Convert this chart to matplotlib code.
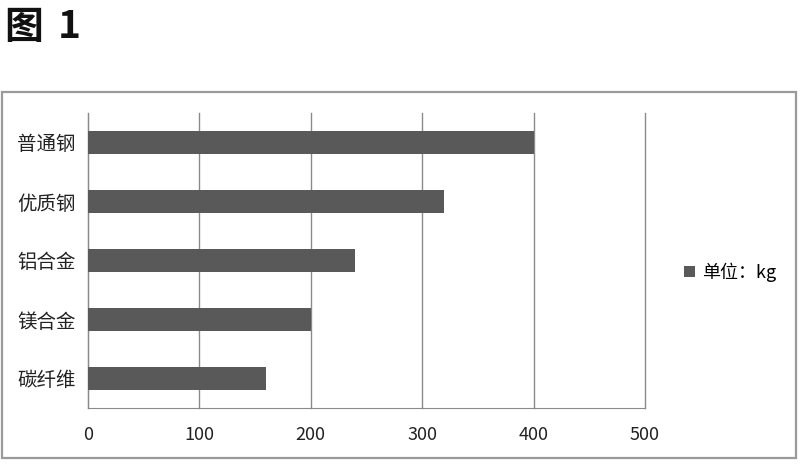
import matplotlib
matplotlib.use("Agg")
import matplotlib.pyplot as plt
from matplotlib.patches import Rectangle

plt.rcParams['font.family'] = ['Noto Sans CJK SC', 'DejaVu Sans']

categories = ["普通钢", "优质钢", "铝合金", "镁合金", "碳纤维"]
values = [400, 320, 240, 200, 160]
xticks = [0, 100, 200, 300, 400, 500]
legend_label = "单位：kg"

fig = plt.figure(figsize=(8, 4.66), dpi=100)
fig.patch.set_facecolor("white")

# outer frame
fig.patches.append(Rectangle((2/800, 1 - 458/466), 794/800, 366/466,
                             transform=fig.transFigure, fill=False,
                             edgecolor="#9a9a9a", linewidth=1.6))

fig.text(4/800, 1 - 27/466, "图", fontsize=28, fontweight="bold",
         va="center", ha="left", color="#111111")
fig.text(58/800, 1 - 27/466, "1", fontsize=28, fontweight="bold",
         va="center", ha="left", color="#111111")

ax = fig.add_axes([88/800, 1 - 408/466, (645 - 88)/800, (408 - 113)/466])
ypos = list(range(len(categories)))
bars = ax.barh(ypos, values, height=0.38, color="#595959", label=legend_label, zorder=3)
ax.set_ylim(len(categories) - 0.5, -0.5)
ax.set_xlim(0, 500)
ax.set_xticks(xticks)
ax.set_xticklabels([str(t) for t in xticks], fontsize=13, color="#222222")
ax.set_yticks(ypos)
ax.set_yticklabels(categories, fontsize=14, color="#222222")
ax.tick_params(axis="both", length=0)
ax.tick_params(axis="x", pad=13)
ax.tick_params(axis="y", pad=9)
ax.grid(axis="x", color="#8a8a8a", linewidth=1, zorder=0)
for gl in ax.get_xgridlines():
    gl.set_clip_on(False)
for s in ["top", "right"]:
    ax.spines[s].set_visible(False)
ax.spines["left"].set_color("#8a8a8a")
ax.spines["bottom"].set_color("#8a8a8a")

fig.legend(handles=[bars], labels=[legend_label], loc="center left",
           bbox_to_anchor=(668/800, 1 - 272/466), frameon=False, fontsize=13,
           handlelength=0.6, handleheight=0.6, handletextpad=0.4)

fig.savefig("out.png", dpi=100)
